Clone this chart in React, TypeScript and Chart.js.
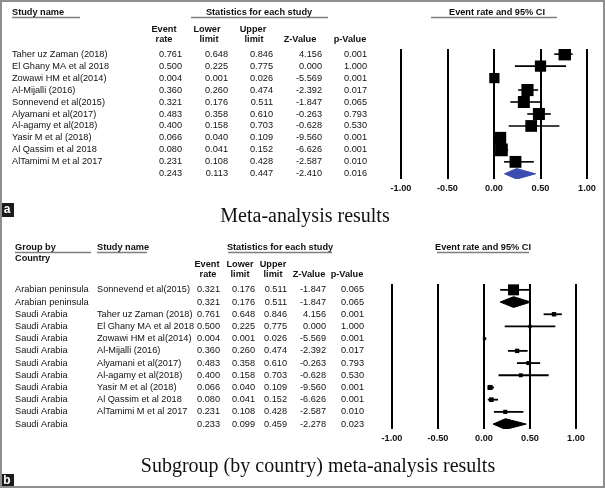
import React, { useEffect, useRef } from "react";
import { Chart, registerables } from "chart.js";

Chart.register(...registerables);

// ---------------- data ----------------
const axisTicks = [-1, -0.5, 0, 0.5, 1];
const axisTickLabels = ["-1.00", "-0.50", "0.00", "0.50", "1.00"];
const headTop = ["Event", "Lower", "Upper"];
const headBottom = ["rate", "limit", "limit", "Z-Value", "p-Value"];

// Panel a: overall meta-analysis (last entry = pooled estimate)
const studyNamesA = [
  "Taher uz Zaman (2018)",
  "El Ghany MA et al 2018",
  "Zowawi HM et al(2014)",
  "Al-Mijalli (2016)",
  "Sonnevend et al(2015)",
  "Alyamani et al(2017)",
  "Al-agamy et al(2018)",
  "Yasir M et al (2018)",
  "Al Qassim et al 2018",
  "AlTamimi M et al 2017",
  "",
];
const eventRateA = [0.761, 0.5, 0.004, 0.36, 0.321, 0.483, 0.4, 0.066, 0.08, 0.231, 0.243];
const lowerA = [0.648, 0.225, 0.001, 0.26, 0.176, 0.358, 0.158, 0.04, 0.041, 0.108, 0.113];
const upperA = [0.846, 0.775, 0.026, 0.474, 0.511, 0.61, 0.703, 0.109, 0.152, 0.428, 0.447];
const zValueA = [4.156, 0.0, -5.569, -2.392, -1.847, -0.263, -0.628, -9.56, -6.626, -2.587, -2.41];
const pValueA = [0.001, 1.0, 0.001, 0.017, 0.065, 0.793, 0.53, 0.001, 0.001, 0.01, 0.016];
const summaryA = [false, false, false, false, false, false, false, false, false, false, true];
const weightA = [1.0, 0.9, 0.82, 0.97, 0.96, 0.96, 0.94, 0.97, 1.02, 0.95, 0];

// Panel b: subgroup by country
const groupB = [
  "Arabian peninsula",
  "Arabian peninsula",
  "Saudi Arabia",
  "Saudi Arabia",
  "Saudi Arabia",
  "Saudi Arabia",
  "Saudi Arabia",
  "Saudi Arabia",
  "Saudi Arabia",
  "Saudi Arabia",
  "Saudi Arabia",
  "Saudi Arabia",
];
const studyNamesB = [
  "Sonnevend et al(2015)",
  "",
  "Taher uz Zaman (2018)",
  "El Ghany MA et al 2018",
  "Zowawi HM et al(2014)",
  "Al-Mijalli (2016)",
  "Alyamani et al(2017)",
  "Al-agamy et al(2018)",
  "Yasir M et al (2018)",
  "Al Qassim et al 2018",
  "AlTamimi M et al 2017",
  "",
];
const eventRateB = [0.321, 0.321, 0.761, 0.5, 0.004, 0.36, 0.483, 0.4, 0.066, 0.08, 0.231, 0.233];
const lowerB = [0.176, 0.176, 0.648, 0.225, 0.001, 0.26, 0.358, 0.158, 0.04, 0.041, 0.108, 0.099];
const upperB = [0.511, 0.511, 0.846, 0.775, 0.026, 0.474, 0.61, 0.703, 0.109, 0.152, 0.428, 0.459];
const zValueB = [-1.847, -1.847, 4.156, 0.0, -5.569, -2.392, -0.263, -0.628, -9.56, -6.626, -2.587, -2.278];
const pValueB = [0.065, 0.065, 0.001, 1.0, 0.001, 0.017, 0.793, 0.53, 0.001, 0.001, 0.01, 0.023];
const summaryB = [false, true, false, false, false, false, false, false, false, false, false, true];
const weightB = [1.0, 0, 0.4, 0.3, 0.28, 0.4, 0.37, 0.36, 0.46, 0.42, 0.38, 0];

// ---------------- drawing helpers ----------------
const SANS = '"Liberation Sans", Arial, Helvetica, sans-serif';
const SERIF = '"Liberation Serif", "Times New Roman", serif';
const FS = 9.2;
const rowFont = `${FS}px ${SANS}`;
const boldFont = `bold ${FS}px ${SANS}`;
const titleFont = `20px ${SERIF}`;

function txt(ctx: CanvasRenderingContext2D, s: string, x: number, y: number, align: CanvasTextAlign, font: string, color = "#111") {
  ctx.font = font;
  ctx.fillStyle = color;
  ctx.textAlign = align;
  ctx.textBaseline = "middle";
  ctx.fillText(s, x, y);
}
function uline(ctx: CanvasRenderingContext2D, x1: number, x2: number, y: number) {
  ctx.strokeStyle = "#7f7f7f";
  ctx.lineWidth = 1.5;
  ctx.beginPath();
  ctx.moveTo(x1, y);
  ctx.lineTo(x2, y);
  ctx.stroke();
}
function tag(ctx: CanvasRenderingContext2D, letter: string, x: number, y: number, w: number, h: number) {
  ctx.fillStyle = "#1b1b1b";
  ctx.fillRect(x, y, w, h);
  txt(ctx, letter, x + w / 2, y + h / 2, "center", `bold 12px ${SANS}`, "#fff");
}
const f3 = (v: number) => v.toFixed(3);

function buildDatasets(
  rates: number[], lowers: number[], uppers: number[], summary: boolean[], weights: number[],
  sidePx: number, diamondColor: string, halfH: number, whiskerW: number
) {
  const pts: { x: number; y: number }[] = [];
  const radii: number[] = [];
  const lines: any[] = [];
  const diamonds: any[] = [];
  rates.forEach((r, i) => {
    if (summary[i]) {
      diamonds.push({
        type: "line",
        order: 1,
        data: [
          { x: lowers[i], y: i },
          { x: r, y: i - halfH },
          { x: uppers[i], y: i },
          { x: r, y: i + halfH },
          { x: lowers[i], y: i },
        ],
        fill: "shape",
        backgroundColor: diamondColor,
        borderColor: diamondColor,
        borderWidth: 1,
        pointRadius: 0,
        tension: 0,
      });
    } else {
      pts.push({ x: r, y: i });
      radii.push((weights[i] * sidePx) / Math.SQRT2);
      lines.push({
        type: "line",
        order: 2,
        data: [
          { x: lowers[i], y: i },
          { x: uppers[i], y: i },
        ],
        borderColor: "#000",
        borderWidth: whiskerW,
        pointRadius: 0,
        fill: false,
      });
    }
  });
  const squares = {
    type: "scatter",
    order: 0,
    data: pts,
    pointStyle: "rect",
    pointRadius: radii,
    pointHoverRadius: radii,
    backgroundColor: "#000",
    borderColor: "#000",
    borderWidth: 0,
  };
  return [squares, ...diamonds, ...lines];
}

function baseOptions(padding: any, yMin: number, yMax: number) {
  return {
    responsive: false,
    animation: false as const,
    events: [],
    layout: { padding },
    plugins: { legend: { display: false }, tooltip: { enabled: false } },
    scales: {
      x: {
        type: "linear",
        min: -1,
        max: 1,
        afterBuildTicks: (scale: any) => {
          scale.ticks = axisTicks.map((v) => ({ value: v }));
        },
        ticks: {
          callback: (v: number) => axisTickLabels[axisTicks.indexOf(v)] ?? "",
          font: { family: SANS, size: FS, weight: "bold" },
          color: "#111",
          padding: 4,
          maxRotation: 0,
          autoSkip: false,
        },
        grid: { color: "#000", lineWidth: 2, drawTicks: false },
        border: { display: false },
      },
      y: { type: "linear", min: yMin, max: yMax, reverse: true, display: false },
    },
  };
}

// ---------------- panel a ----------------
function configA(): any {
  const plugin = {
    id: "tableA",
    afterDraw(chart: any) {
      const ctx: CanvasRenderingContext2D = chart.ctx;
      const ys = chart.scales.y;
      ctx.save();
      txt(ctx, "Study name", 12, 12, "left", boldFont);
      uline(ctx, 12, 80, 17.5);
      txt(ctx, "Statistics for each study", 259, 12, "center", boldFont);
      uline(ctx, 191, 328, 17.5);
      txt(ctx, "Event rate and 95% CI", 497, 12, "center", boldFont);
      uline(ctx, 431, 557, 17.5);
      const topX = [164, 207, 253];
      headTop.forEach((h, k) => txt(ctx, h, topX[k], 29, "center", boldFont));
      const botX = [164, 209, 254, 300, 350];
      headBottom.forEach((h, k) => txt(ctx, h, botX[k], 39, "center", boldFont));
      const cols = [182, 228, 273, 322, 367];
      eventRateA.forEach((r, i) => {
        const y = ys.getPixelForValue(i);
        if (studyNamesA[i]) txt(ctx, studyNamesA[i], 12, y, "left", rowFont);
        [r, lowerA[i], upperA[i], zValueA[i], pValueA[i]].forEach((v, k) =>
          txt(ctx, f3(v), cols[k], y, "right", rowFont)
        );
      });
      txt(ctx, "Meta-analysis results", 305, 217, "center", titleFont, "#111");
      tag(ctx, "a", 0, 203, 14, 14);
      ctx.restore();
    },
  };
  return {
    type: "scatter",
    data: { datasets: buildDatasets(eventRateA, lowerA, upperA, summaryA, weightA, 12.5, "#3a4db3", 0.44, 1.6) },
    options: baseOptions({ left: 401, right: 18, top: 49, bottom: 290 }, -0.43, 10.43),
    plugins: [plugin],
  };
}

// ---------------- panel b ----------------
function configB(): any {
  const plugin = {
    id: "tableB",
    afterDraw(chart: any) {
      const ctx: CanvasRenderingContext2D = chart.ctx;
      const ys = chart.scales.y;
      ctx.save();
      txt(ctx, "Group by", 15, 247, "left", boldFont);
      uline(ctx, 15, 91, 252.5);
      txt(ctx, "Country", 15, 258, "left", boldFont);
      txt(ctx, "Study name", 97, 247, "left", boldFont);
      uline(ctx, 97, 147, 252.5);
      txt(ctx, "Statistics for each study", 280, 247, "center", boldFont);
      uline(ctx, 228, 332, 252.5);
      txt(ctx, "Event rate and 95% CI", 483, 247, "center", boldFont);
      uline(ctx, 437, 529, 252.5);
      const topX = [207, 240, 273];
      headTop.forEach((h, k) => txt(ctx, h, topX[k], 264, "center", boldFont));
      const botX = [208, 240, 273, 309, 347];
      headBottom.forEach((h, k) => txt(ctx, h, botX[k], 274, "center", boldFont));
      const cols = [220, 255, 287, 326, 364];
      eventRateB.forEach((r, i) => {
        const y = ys.getPixelForValue(i);
        txt(ctx, groupB[i], 15, y, "left", rowFont);
        if (studyNamesB[i]) txt(ctx, studyNamesB[i], 97, y, "left", rowFont);
        [r, lowerB[i], upperB[i], zValueB[i], pValueB[i]].forEach((v, k) =>
          txt(ctx, f3(v), cols[k], y, "right", rowFont)
        );
      });
      txt(ctx, "Subgroup (by country) meta-analysis results", 318, 467, "center", titleFont, "#111");
      tag(ctx, "b", 0, 474, 14, 14);
      ctx.restore();
    },
  };
  return {
    type: "scatter",
    data: { datasets: buildDatasets(eventRateB, lowerB, upperB, summaryB, weightB, 11, "#000", 0.44, 1.8) },
    options: baseOptions({ left: 392, right: 29, top: 284, bottom: 40 }, -0.48, 11.4),
    plugins: [plugin],
  };
}

export default function App() {
  const refA = useRef<HTMLCanvasElement>(null);
  const refB = useRef<HTMLCanvasElement>(null);
  useEffect(() => {
    document.body.style.margin = "0";
    const a = new Chart(refA.current!, configA());
    const b = new Chart(refB.current!, configB());
    return () => {
      a.destroy();
      b.destroy();
    };
  }, []);
  const cv: React.CSSProperties = { position: "absolute", left: 0, top: 0, width: 605, height: 488 };
  return (
    <div style={{ position: "fixed", left: 0, top: 0, width: 605, height: 488, background: "#fff", overflow: "hidden" }}>
      <canvas ref={refA} width={605} height={488} style={cv} />
      <canvas ref={refB} width={605} height={488} style={cv} />
      <div
        style={{
          position: "absolute",
          left: 0,
          top: 0,
          width: 605,
          height: 488,
          boxSizing: "border-box",
          border: "2px solid #8e8e8e",
          pointerEvents: "none",
        }}
      />
    </div>
  );
}
